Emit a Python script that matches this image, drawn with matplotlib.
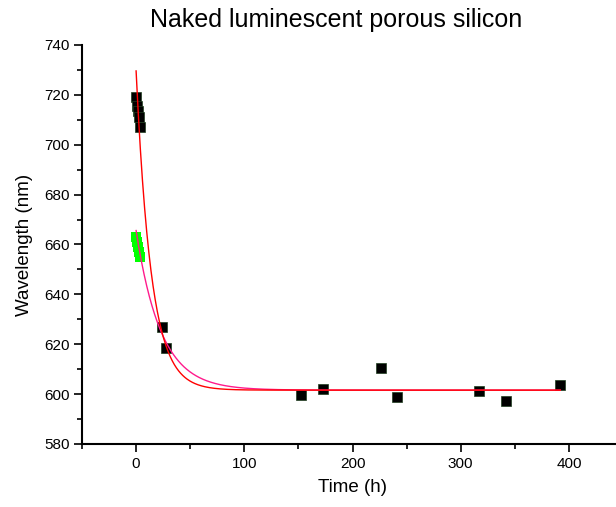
import numpy as np
import matplotlib
matplotlib.use("Agg")
import matplotlib.pyplot as plt
from matplotlib.ticker import MultipleLocator

plt.rcParams['font.family'] = ['Liberation Sans', 'DejaVu Sans']

# Data
black_t = [0, 1, 2, 3, 4, 24, 28, 152, 173, 226, 241, 317, 342, 392]
black_wl = [719, 715.5, 713.5, 711, 707, 627, 618.5, 599.5, 602, 610.5, 599, 601.3, 597.3, 603.5]
green_t = [0, 1, 2, 3, 4]
green_wl = [663, 661, 659, 657, 655]

# Exponential decay fits y = y0 + A*exp(-t/tau)
red_fit = dict(y0=601.6, A=128.0, tau=14.0)
pink_fit = dict(y0=601.6, A=64.0, tau=23.0)
fit_t_range = (0, 392)

fig = plt.figure(figsize=(6.16, 5.07), dpi=100)
ax = fig.add_axes([82/616, 63/507, 541/616, 399/507])

ax.plot(green_t, green_wl, 's', color='#00FF00', markersize=6.5, markeredgewidth=0, zorder=2)
ax.plot(black_t, black_wl, 's', color='black', markersize=6.5, markeredgecolor='#1e3d1e',
        markeredgewidth=0.5, zorder=3)

t = np.linspace(fit_t_range[0], fit_t_range[1], 800)
for p, c in [(pink_fit, '#FF1A8C'), (red_fit, '#FF0000')]:
    ax.plot(t, p['y0'] + p['A'] * np.exp(-t / p['tau']), color=c, lw=1.0, zorder=4)

ax.set_xlim(-50, 450)
ax.set_ylim(580, 740)
ax.xaxis.set_major_locator(MultipleLocator(100))
ax.xaxis.set_minor_locator(MultipleLocator(50))
ax.yaxis.set_major_locator(MultipleLocator(20))
ax.yaxis.set_minor_locator(MultipleLocator(10))
for s in ['top', 'right']:
    ax.spines[s].set_visible(False)
for s in ['left', 'bottom']:
    ax.spines[s].set_linewidth(1.5)
ax.tick_params(which='major', direction='out', length=6, width=1.2, labelsize=11, pad=3)
ax.tick_params(which='minor', direction='out', length=3.5, width=1.2)

ax.set_xlabel('Time (h)', fontsize=13.5, labelpad=6)
ax.set_ylabel('Wavelength (nm)', fontsize=13.5, labelpad=8)
fig.text(336/616, 1 - 20/507, 'Naked luminescent porous silicon', fontsize=18,
         ha='center', va='center')

fig.savefig('out.png', dpi=100)
